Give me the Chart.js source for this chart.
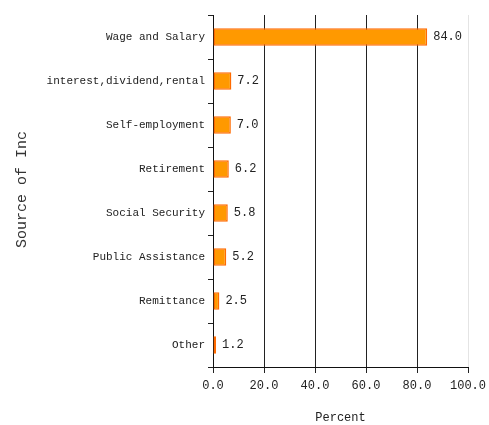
<!DOCTYPE html>
<html>
<head>
<meta charset="utf-8">
<script src="https://cdn.jsdelivr.net/npm/chart.js@4"></script>
<style>
  html, body { margin: 0; padding: 0; background: #fff; }
  #wrap { width: 489px; height: 425px; position: relative; }
</style>
</head>
<body>
<div id="wrap"><canvas id="incomeChart"></canvas></div>
<script>
const categories = ['Wage and Salary', 'interest,dividend,rental', 'Self-employment', 'Retirement',
    'Social Security', 'Public Assistance', 'Remittance', 'Other'];
const percentValues = [84.0, 7.2, 7.0, 6.2, 5.8, 5.2, 2.5, 1.2];
const xTicks = [0, 20, 40, 60, 80, 100];

const FONT = 'Liberation Mono';

// value labels at the end of each bar
const valueLabels = {
    id: 'valueLabels',
    afterDatasetsDraw(chart) {
        const ctx = chart.ctx;
        const meta = chart.getDatasetMeta(0);
        ctx.save();
        ctx.font = '12px ' + FONT;
        ctx.fillStyle = '#222';
        ctx.textBaseline = 'middle';
        ctx.textAlign = 'left';
        meta.data.forEach((bar, i) => {
            ctx.fillText(percentValues[i].toFixed(1), bar.x + 6, bar.y);
        });
        ctx.restore();
    }
};

// y axis title, clipped like the original
const yTitle = {
    id: 'yTitle',
    afterDraw(chart) {
        const ctx = chart.ctx;
        ctx.save();
        ctx.beginPath();
        ctx.rect(0, 130, 60, 300);
        ctx.clip();
        ctx.translate(22, 248);
        ctx.rotate(-Math.PI / 2);
        ctx.font = '15px ' + FONT;
        ctx.fillStyle = '#333';
        ctx.textBaseline = 'middle';
        ctx.textAlign = 'left';
        ctx.fillText('Source of Income', 0, 0);
        ctx.restore();
    }
};

const ctx = document.getElementById('incomeChart').getContext('2d');
new Chart(ctx, {
    type: 'bar',
    data: {
        labels: categories,
        datasets: [{
            data: percentValues,
            backgroundColor: '#ff9900',
            borderColor: '#ff6a00',
            borderWidth: 1.5,
            borderSkipped: false,
            categoryPercentage: 1,
            barPercentage: 0.4
        }]
    },
    options: {
        indexAxis: 'y',
        responsive: true,
        maintainAspectRatio: false,
        animation: false,
        layout: { padding: { left: 0, right: 21, top: 15, bottom: 0 } },
        scales: {
            x: {
                min: 0,
                max: 100,
                afterBuildTicks: scale => { scale.ticks = xTicks.map(v => ({ value: v })); },
                afterFit: scale => {
                    scale.height = 58;
                    scale.paddingRight = 0;
                    scale.paddingLeft = 0;
                },
                border: { color: '#111', width: 1 },
                grid: {
                    color: c => (c.tick && c.tick.value === 100) ? '#e4e4e4' : '#222',
                    tickColor: '#222',
                    tickLength: 6,
                    lineWidth: 1
                },
                ticks: {
                    font: { family: FONT, size: 12 },
                    color: '#222',
                    padding: 6,
                    maxRotation: 0,
                    callback: v => Number(v).toFixed(1)
                },
                title: {
                    display: true,
                    text: 'Percent',
                    font: { family: FONT, size: 12 },
                    color: '#222',
                    padding: { top: 14, bottom: 0 }
                }
            },
            y: {
                afterFit: scale => { scale.width = 213; },
                border: { color: '#111', width: 1 },
                grid: {
                    drawOnChartArea: false,
                    drawTicks: true,
                    tickLength: 5,
                    tickColor: '#222',
                    offset: true
                },
                ticks: {
                    font: { family: FONT, size: 11 },
                    color: '#222',
                    padding: 3
                }
            }
        },
        plugins: {
            legend: { display: false },
            tooltip: { enabled: false }
        }
    },
    plugins: [valueLabels, yTitle]
});
</script>
</body>
</html>
